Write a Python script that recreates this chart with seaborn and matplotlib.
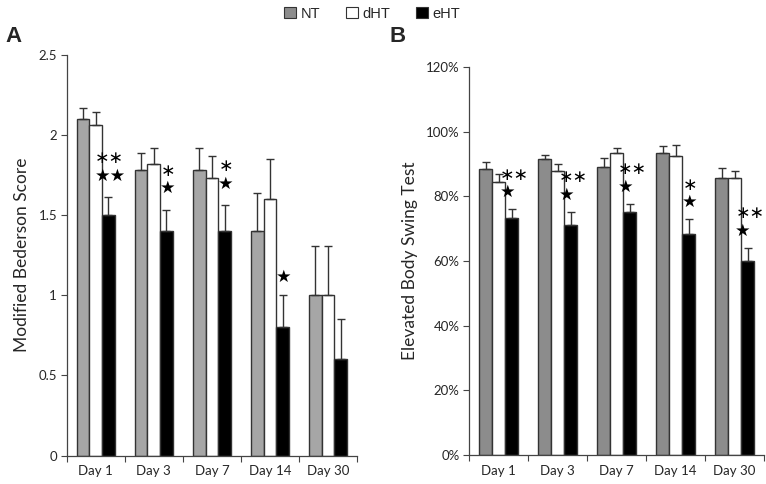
import matplotlib
matplotlib.use("Agg")
import matplotlib.pyplot as plt
import seaborn as sns
import pandas as pd
import numpy as np
from matplotlib.patches import Patch
from matplotlib.ticker import FixedLocator, FuncFormatter

days = ["Day 1", "Day 3", "Day 7", "Day 14", "Day 30"]
groups = ["NT", "dHT", "eHT"]

# Panel A: Modified Bederson Score
a_nt = [2.10, 1.78, 1.78, 1.40, 1.00]
a_dht = [2.06, 1.82, 1.73, 1.60, 1.00]
a_eht = [1.50, 1.40, 1.40, 0.80, 0.60]
a_nt_err = [0.07, 0.11, 0.14, 0.24, 0.31]
a_dht_err = [0.08, 0.10, 0.14, 0.25, 0.31]
a_eht_err = [0.11, 0.13, 0.16, 0.20, 0.25]
a_marks = ["∗∗\n★★", "∗\n★", "∗\n★", "★", ""]

# Panel B: Elevated Body Swing Test (fraction)
b_nt = [0.886, 0.916, 0.892, 0.934, 0.858]
b_dht = [0.845, 0.879, 0.934, 0.926, 0.858]
b_eht = [0.733, 0.712, 0.753, 0.685, 0.599]
b_nt_err = [0.020, 0.012, 0.027, 0.022, 0.029]
b_dht_err = [0.024, 0.021, 0.016, 0.033, 0.019]
b_eht_err = [0.028, 0.041, 0.024, 0.045, 0.042]
b_marks = ["∗∗\n★", "∗∗\n★", "∗∗\n★", "∗\n★", "∗∗\n★"]

sns.set_theme(style="white")
plt.rcParams["font.family"] = ["Lato", "DejaVu Sans"]

fig = plt.figure(figsize=(7.66, 4.84), dpi=100)
axA = fig.add_axes([0.0871, 0.0585, 0.3790, 0.8285])
axB = fig.add_axes([0.6127, 0.0599, 0.3848, 0.8017])


def make_df(nt, dht, eht, ent, edh, eeh):
    rows = []
    for g, vals, errs in zip(groups, [nt, dht, eht], [ent, edh, eeh]):
        for d, v, e in zip(days, vals, errs):
            rows.append({"Day": d, "Group": g, "Value": v, "Err": e})
    return pd.DataFrame(rows)


def draw(ax, df, gray, ylim, yticks, fmt, ylabel, marks, single_off, double_off, width):
    pal = {"NT": gray, "dHT": "white", "eHT": "black"}
    sns.barplot(data=df, x="Day", y="Value", hue="Group", order=days,
                hue_order=groups, palette=pal, width=width, ax=ax,
                edgecolor="#333333", linewidth=1.0, errorbar=None,
                legend=False, saturation=1)
    for gi, g in enumerate(groups):
        cont = ax.containers[gi]
        sub = df[df.Group == g].set_index("Day").loc[days]
        xs = [p.get_x() + p.get_width() / 2 for p in cont.patches]
        hs = [p.get_height() for p in cont.patches]
        errs = sub["Err"].values
        ax.errorbar(xs, hs, yerr=[np.zeros(len(errs)), errs], fmt="none",
                    ecolor="#333333", elinewidth=1.0, capsize=3, capthick=1.0,
                    zorder=1)
        if g == "eHT":
            for x, h, e, m in zip(xs, hs, errs, marks):
                if not m:
                    continue
                top = h + e
                two = "\n" in m
                wide = ("∗∗" in m)
                ax.annotate(m, (x, top),
                            xytext=(1.5 if wide else 1, double_off if two else single_off),
                            textcoords="offset points", ha="center", va="center",
                            multialignment="left" if wide else "center",
                            fontsize=12.5, color="black", linespacing=0.95,
                            family=["DejaVu Sans"])
    ax.set_ylim(*ylim)
    ax.set_xlim(-0.5, 4.5)
    ax.yaxis.set_major_locator(FixedLocator(yticks))
    ax.yaxis.set_major_formatter(FuncFormatter(fmt))
    ax.set_xticks(range(len(days)))
    ax.set_xticklabels(days)
    ax.set_xticks(np.arange(-0.5, 5.0, 1.0), minor=True)
    ax.tick_params(axis="x", which="major", length=0, labelsize=9.5, pad=7)
    ax.tick_params(axis="x", which="minor", length=4, width=0.8, color="#444444",
                   direction="out", bottom=True)
    ax.tick_params(axis="y", which="major", length=4, width=0.8, color="#444444",
                   direction="out", left=True, labelsize=9.5, pad=3)
    ax.set_xlabel("")
    ax.set_ylabel(ylabel, fontsize=12.5, labelpad=6)
    for s in ["top", "right"]:
        ax.spines[s].set_visible(False)
    for s in ["left", "bottom"]:
        ax.spines[s].set_color("#444444")
        ax.spines[s].set_linewidth(0.9)
    ax.set_facecolor("white")


dfA = make_df(a_nt, a_dht, a_eht, a_nt_err, a_dht_err, a_eht_err)
dfB = make_df(b_nt, b_dht, b_eht, b_nt_err, b_dht_err, b_eht_err)

draw(axA, dfA, "#a6a6a6", (0, 2.5), [0, 0.5, 1, 1.5, 2, 2.5],
     lambda v, p: "0" if v == 0 else f"{v:g}", "Modified Bederson Score",
     a_marks, 13, 22, 0.655)
draw(axB, dfB, "#8c8c8c", (0, 1.2), [0, 0.2, 0.4, 0.6, 0.8, 1.0, 1.2],
     lambda v, p: f"{v*100:.0f}%", "Elevated Body Swing Test",
     b_marks, 11, 18.5, 0.667)

fig.text(0.017, 0.925, "A", fontsize=16, fontweight="bold", family=["Liberation Sans"],
         ha="center", va="center")
fig.text(0.519, 0.925, "B", fontsize=16, fontweight="bold", family=["Liberation Sans"],
         ha="center", va="center")

handles = [Patch(facecolor=c, edgecolor="#333333", linewidth=0.8, label=l)
           for c, l in zip(["#8c8c8c", "white", "black"], groups)]
fig.legend(handles=handles, loc="center", bbox_to_anchor=(0.486, 0.972), ncol=3,
           frameon=False, prop={"family": ["Liberation Sans"], "size": 10.5},
           handlelength=0.8, handleheight=0.8, handletextpad=0.3, columnspacing=1.8)

fig.savefig("out.png", dpi=100, facecolor="white")
